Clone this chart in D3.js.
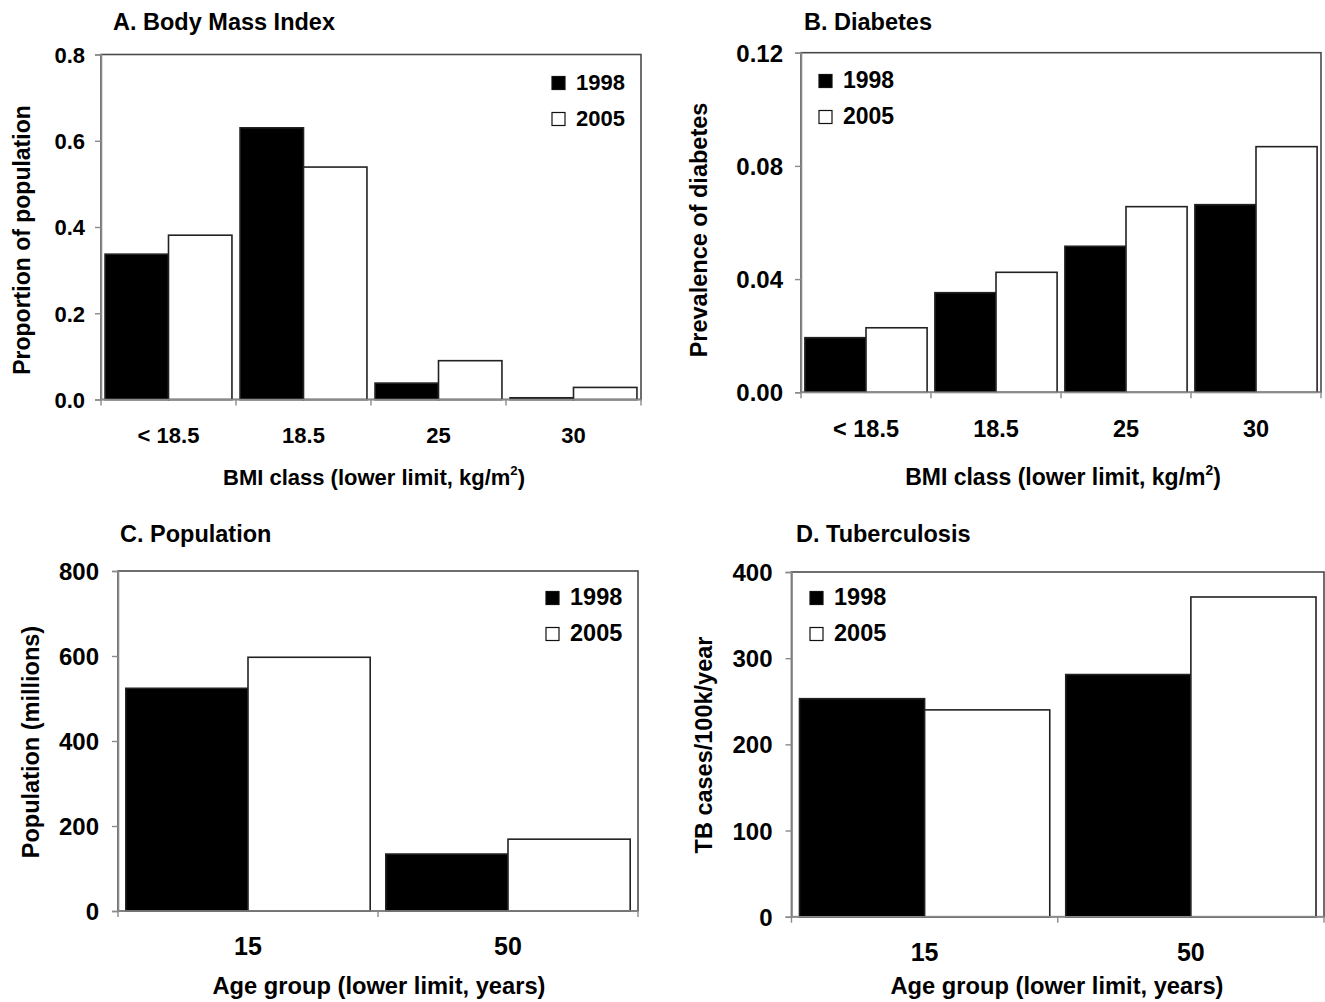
<!DOCTYPE html>
<html>
<head>
<meta charset="utf-8">
<script src="https://cdn.jsdelivr.net/npm/d3@7"></script>
<style>
  html, body { margin: 0; padding: 0; background: #fff; }
  svg { display: block; }
  text { font-family: "Liberation Sans", Arial, Helvetica, sans-serif; font-weight: bold; fill: #000; }
</style>
</head>
<body>
<svg id="chart" width="1325" height="1002"></svg>
<script>
// ---------- DATA ----------
const years = ["1998", "2005"];
const bmiClasses = ["< 18.5", "18.5", "25", "30"];
const ageGroups = ["15", "50"];

const bmiProp1998 = [0.337, 0.630, 0.038, 0.004];
const bmiProp2005 = [0.381, 0.539, 0.090, 0.028];

const diabetes1998 = [0.0193, 0.0352, 0.0516, 0.0663];
const diabetes2005 = [0.0228, 0.0424, 0.0656, 0.0868];

const population1998 = [524, 134];
const population2005 = [597, 169];

const tb1998 = [253, 281];
const tb2005 = [240, 371];

const bmiTicks = [0, 0.2, 0.4, 0.6, 0.8];
const diabetesTicks = [0, 0.04, 0.08, 0.12];
const populationTicks = [0, 200, 400, 600, 800];
const tbTicks = [0, 100, 200, 300, 400];

const titles = ["A. Body Mass Index", "B. Diabetes", "C. Population", "D. Tuberculosis"];
const yTitles = ["Proportion of population", "Prevalence of diabetes", "Population (millions)", "TB cases/100k/year"];
const bmiXTitle = ["BMI class (lower limit, kg/m", "2", ")"];
const ageXTitle = "Age group (lower limit, years)";

// ---------- DRAW ----------
const svg = d3.select("#chart");
const seriesFill = { "1998": "#000", "2005": "#fff" };

function drawPanel(p) {
  const g = svg.append("g");
  const x = d3.scaleBand().domain(p.categories).range([p.left, p.right])
    .paddingInner(0.06).paddingOuter(0.03);
  const xs = d3.scaleBand().domain(years).range([0, x.bandwidth()]).padding(0);
  const y = d3.scaleLinear().domain([0, p.ticks[p.ticks.length - 1]]).range([p.bottom, p.top]);

  // frame
  g.append("rect")
    .attr("x", p.left).attr("y", p.top)
    .attr("width", p.right - p.left).attr("height", p.bottom - p.top)
    .attr("fill", "#fff").attr("stroke", "#4a4a4a").attr("stroke-width", 1.6);

  // bars
  const rows = p.categories.map((c, i) => ({ cat: c, vals: [p.s1[i], p.s2[i]] }));
  rows.forEach(r => {
    years.forEach((yr, k) => {
      const v = r.vals[k];
      g.append("rect")
        .attr("x", x(r.cat) + xs(yr))
        .attr("y", y(v))
        .attr("width", xs.bandwidth())
        .attr("height", y(0) - y(v))
        .attr("fill", seriesFill[yr])
        .attr("stroke", "#222")
        .attr("stroke-width", 1.6);
    });
  });

  // y axis
  const yAxis = d3.axisLeft(y).tickValues(p.ticks).tickSize(6).tickPadding(p.yPad)
    .tickFormat(d3.format(p.fmt));
  const ya = g.append("g").attr("transform", `translate(${p.left},0)`).call(yAxis);
  ya.select(".domain").attr("stroke", "#8a8a8a").attr("stroke-width", 1.6);
  ya.selectAll(".tick line").attr("stroke", "#8a8a8a").attr("stroke-width", 1.4);
  ya.selectAll(".tick text").attr("font-size", p.yTickSize).attr("fill", "#000")
    .attr("font-family", null).attr("dy", "0.36em");
  ya.attr("font-family", null).attr("font-size", null);

  // x axis (ticks at category boundaries)
  const bounds = d3.range(p.categories.length + 1).map(i => p.left + i * (p.right - p.left) / p.categories.length);
  g.append("line").attr("x1", p.left).attr("x2", p.right).attr("y1", p.bottom).attr("y2", p.bottom)
    .attr("stroke", "#8a8a8a").attr("stroke-width", 1.6);
  g.selectAll(".xtick").data(bounds).enter().append("line")
    .attr("x1", d => d).attr("x2", d => d).attr("y1", p.bottom).attr("y2", p.bottom + 6)
    .attr("stroke", "#8a8a8a").attr("stroke-width", 1.4);
  g.selectAll(".xlab").data(p.categories).enter().append("text")
    .attr("x", d => x(d) + x.bandwidth() / 2).attr("y", p.xLabelY)
    .attr("text-anchor", "middle").attr("font-size", p.xTickSize).text(d => d);

  // title
  g.append("text").attr("x", p.titleX).attr("y", p.titleY).attr("font-size", 23.5).text(p.title);

  // y title
  g.append("text")
    .attr("transform", `translate(${p.yTitleX},${p.yTitleY}) rotate(-90)`)
    .attr("text-anchor", "middle").attr("dy", "0.33em")
    .attr("font-size", p.yTitleSize).text(p.yTitle);

  // x title
  const xt = g.append("text").attr("x", p.xTitleX).attr("y", p.xTitleY)
    .attr("text-anchor", "middle").attr("font-size", p.xTitleSize);
  if (Array.isArray(p.xTitle)) {
    xt.append("tspan").text(p.xTitle[0]);
    xt.append("tspan").attr("font-size", p.xTitleSize * 0.6).attr("dy", -p.xTitleSize * 0.45).text(p.xTitle[1]);
    xt.append("tspan").attr("dy", p.xTitleSize * 0.45).text(p.xTitle[2]);
  } else {
    xt.text(p.xTitle);
  }

  // legend
  years.forEach((yr, k) => {
    const by = p.legY + k * 36;
    g.append("rect").attr("x", p.legX).attr("y", by - 13.5).attr("width", 13).attr("height", 13)
      .attr("fill", seriesFill[yr]).attr("stroke", "#111").attr("stroke-width", 1.2);
    g.append("text").attr("x", p.legX + 24).attr("y", by).attr("font-size", p.legSize).text(yr);
  });
}

drawPanel({
  categories: bmiClasses, s1: bmiProp1998, s2: bmiProp2005, ticks: bmiTicks, fmt: ".1f",
  left: 101, right: 641, top: 54.5, bottom: 399.5,
  yPad: 10, yTickSize: 22, xTickSize: 22, xLabelY: 443,
  title: titles[0], titleX: 113, titleY: 30,
  yTitle: yTitles[0], yTitleX: 22, yTitleY: 240, yTitleSize: 23,
  xTitle: bmiXTitle, xTitleX: 374, xTitleY: 485, xTitleSize: 22,
  legX: 552, legY: 90, legSize: 22
});

drawPanel({
  categories: bmiClasses, s1: diabetes1998, s2: diabetes2005, ticks: diabetesTicks, fmt: ".2f",
  left: 801, right: 1321, top: 52.7, bottom: 392.3,
  yPad: 12, yTickSize: 24, xTickSize: 23.5, xLabelY: 437,
  title: titles[1], titleX: 804, titleY: 30,
  yTitle: yTitles[1], yTitleX: 699, yTitleY: 230, yTitleSize: 23.5,
  xTitle: bmiXTitle, xTitleX: 1063, xTitleY: 485, xTitleSize: 23,
  legX: 819, legY: 88, legSize: 23
});

drawPanel({
  categories: ageGroups, s1: population1998, s2: population2005, ticks: populationTicks, fmt: "d",
  left: 118, right: 638, top: 571, bottom: 911,
  yPad: 13, yTickSize: 24, xTickSize: 25, xLabelY: 955,
  title: titles[2], titleX: 120, titleY: 542,
  yTitle: yTitles[2], yTitleX: 31, yTitleY: 742, yTitleSize: 23.5,
  xTitle: ageXTitle, xTitleX: 379, xTitleY: 994, xTitleSize: 23.7,
  legX: 546, legY: 605, legSize: 23.5
});

drawPanel({
  categories: ageGroups, s1: tb1998, s2: tb2005, ticks: tbTicks, fmt: "d",
  left: 791.5, right: 1324, top: 572, bottom: 916.7,
  yPad: 13, yTickSize: 24, xTickSize: 25, xLabelY: 961,
  title: titles[3], titleX: 796, titleY: 542,
  yTitle: yTitles[3], yTitleX: 704, yTitleY: 745, yTitleSize: 23.5,
  xTitle: ageXTitle, xTitleX: 1057, xTitleY: 994, xTitleSize: 23.7,
  legX: 810, legY: 605, legSize: 23.5
});
</script>
</body>
</html>
